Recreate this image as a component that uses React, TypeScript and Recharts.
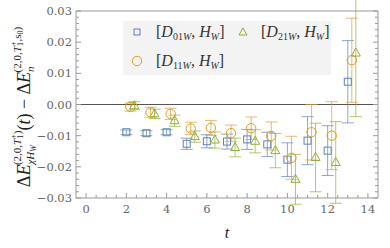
import React from "react";
import {
  ComposedChart,
  Scatter,
  ErrorBar,
  XAxis,
  YAxis,
  ReferenceLine,
  Legend,
} from "recharts";

// time slices for each operator pair (shifted slightly so the points do not overlap)
const tD01 = [2, 3, 4, 5, 6, 7, 8, 9, 10, 11, 12, 13];
const tD11 = [2.2, 3.2, 4.2, 5.2, 6.2, 7.2, 8.2, 9.2, 10.2, 11.2, 12.2, 13.2];
const tD21 = [2.4, 3.4, 4.4, 5.4, 6.4, 7.4, 8.4, 9.4, 10.4, 11.4, 12.4, 13.4];

const d01Values = [-0.0089, -0.0092, -0.0089, -0.0126, -0.0118, -0.0119, -0.0112, -0.0128, -0.0177, -0.0116, -0.0148, 0.0073];
const d01Errors = [0.0007, 0.0008, 0.0008, 0.0018, 0.0021, 0.0024, 0.0032, 0.0039, 0.0054, 0.0077, 0.008, 0.0132];

const d11Values = [-0.0008, -0.0025, -0.003, -0.0077, -0.0075, -0.0092, -0.0076, -0.0101, -0.0171, -0.0089, -0.01, 0.0142];
const d11Errors = [0.0013, 0.0016, 0.0018, 0.002, 0.0024, 0.0026, 0.0036, 0.0045, 0.0069, 0.0089, 0.0109, 0.0135];

const d21Values = [-0.0004, -0.003, -0.0052, -0.0103, -0.0114, -0.0138, -0.0118, -0.0148, -0.024, -0.017, -0.0186, 0.0165];
const d21Errors = [0.0013, 0.0015, 0.0018, 0.0018, 0.0026, 0.003, 0.0037, 0.0055, 0.008, 0.011, 0.0131, 0.0204];

const xMajorTicks = [0, 2, 4, 6, 8, 10, 12, 14];
const yMajorTicks = [-0.03, -0.02, -0.01, 0, 0.01, 0.02, 0.03];

// minor ticks every 0.5 on t and every 0.002 on the energy axis
const xTicks: number[] = [];
for (let i = 0; i <= 28; i++) xTicks.push(i / 2);
const yTicks: number[] = [];
for (let i = -15; i <= 15; i++) yTicks.push(i / 500);

const BLUE = "#5E81B5";
const ORANGE = "#E19C24";
const GREEN = "#8FB032";
const FRAME = "#9a9a9a";
const LABEL = "#666";
const SERIF = "'DejaVu Serif', serif";
const MATH = "'Liberation Serif', serif";

const toRows = (ts: number[], vs: number[], es: number[]) =>
  ts.map((t, i) => ({ x: t, y: vs[i], e: es[i] }));

const isMajorX = (v: number) => xMajorTicks.some((m) => Math.abs(m - v) < 1e-6);
const isMajorY = (v: number) => yMajorTicks.some((m) => Math.abs(m - v) < 1e-7);

const fmtY = (v: number) => {
  const s = Math.abs(v).toFixed(2);
  return v < -1e-9 ? "\u2212" + s : s;
};

const BottomTick = (p: any) => {
  const major = isMajorX(p.payload.value);
  return (
    <g>
      <line x1={p.x} x2={p.x} y1={p.y} y2={p.y - (major ? 5 : 3)} stroke={FRAME} />
      {major && (
        <text x={p.x} y={p.y + 15} textAnchor="middle" fill={LABEL} fontSize={11.5} fontFamily={SERIF}>
          {p.payload.value}
        </text>
      )}
    </g>
  );
};

const TopTick = (p: any) => {
  const major = isMajorX(p.payload.value);
  return <line x1={p.x} x2={p.x} y1={p.y} y2={p.y + (major ? 5 : 3)} stroke={FRAME} />;
};

const LeftTick = (p: any) => {
  const major = isMajorY(p.payload.value);
  return (
    <g>
      <line x1={p.x} x2={p.x + (major ? 5 : 3)} y1={p.y} y2={p.y} stroke={FRAME} />
      {major && (
        <text x={p.x - 4} y={p.y + 4} textAnchor="end" fill={LABEL} fontSize={11.5} fontFamily={SERIF}>
          {fmtY(p.payload.value)}
        </text>
      )}
    </g>
  );
};

const RightTick = (p: any) => {
  const major = isMajorY(p.payload.value);
  return <line x1={p.x} x2={p.x - (major ? 5 : 3)} y1={p.y} y2={p.y} stroke={FRAME} />;
};

const SquareShape = (p: any) => (
  <rect x={p.cx - 3.5} y={p.cy - 3.5} width={7} height={7} fill="none" stroke={BLUE} strokeWidth={1} />
);
const CircleShape = (p: any) => (
  <circle cx={p.cx} cy={p.cy} r={4.7} fill="none" stroke={ORANGE} strokeWidth={1} />
);
const TriangleShape = (p: any) => (
  <polygon
    points={`${p.cx},${p.cy - 5} ${p.cx - 4.5},${p.cy + 3} ${p.cx + 4.5},${p.cy + 3}`}
    fill="none"
    stroke={GREEN}
    strokeWidth={1}
  />
);

// "[D_{ab W}, H_W]" in a math-like style
const PairLabel = ({ x, y, idx }: { x: number; y: number; idx: string }) => (
  <text x={x} y={y} fontFamily={MATH} fontSize={16} fill="#333">
    <tspan>[</tspan>
    <tspan fontStyle="italic">D</tspan>
    <tspan fontSize={10} dy={3}>{idx}</tspan>
    <tspan fontSize={10} fontStyle="italic">W</tspan>
    <tspan dy={-3}>, </tspan>
    <tspan fontStyle="italic">H</tspan>
    <tspan fontSize={10} fontStyle="italic" dy={3}>W</tspan>
    <tspan dy={-3}>]</tspan>
  </text>
);

const LegendBox = () => (
  <svg width={208} height={54} style={{ display: "block" }}>
    <rect x={0} y={0} width={208} height={54} fill="#f3f3f3" />
    <rect x={11} y={8} width={6} height={6} fill="none" stroke={BLUE} />
    <PairLabel x={33} y={16} idx="01" />
    <polygon points="120,7 116,14 124,14" fill="none" stroke={GREEN} />
    <PairLabel x={138} y={16} idx="21" />
    <circle cx={14} cy={40} r={4.7} fill="none" stroke={ORANGE} />
    <PairLabel x={33} y={45} idx="11" />
  </svg>
);

const YLabel = () => (
  <text transform="translate(30,107) rotate(-90)" textAnchor="middle" fontFamily={MATH} fontSize={18} fill="#222">
    <tspan>Δ</tspan>
    <tspan fontStyle="italic">E</tspan>
    <tspan fontSize={11} fontStyle="italic" dy={4}>χH</tspan>
    <tspan fontSize={8} fontStyle="italic" dy={2}>W</tspan>
    <tspan fontSize={11} dx={-20} dy={-15}>(2,0,</tspan>
    <tspan fontSize={11} fontStyle="italic">T</tspan>
    <tspan fontSize={8} dy={2}>1</tspan>
    <tspan fontSize={8} dx={-4} dy={-7}>+</tspan>
    <tspan fontSize={11} dy={5}>)</tspan>
    <tspan dy={9}>(</tspan>
    <tspan fontStyle="italic">t</tspan>
    <tspan>) − Δ</tspan>
    <tspan fontStyle="italic">E</tspan>
    <tspan fontSize={11} fontStyle="italic" dy={4}>n</tspan>
    <tspan fontSize={11} dx={-6} dy={-13}>(2,0,</tspan>
    <tspan fontSize={11} fontStyle="italic">T</tspan>
    <tspan fontSize={8} dy={2}>1</tspan>
    <tspan fontSize={8} dx={-4} dy={-7}>+</tspan>
    <tspan fontSize={11} dy={5}>,s</tspan>
    <tspan fontSize={8} dy={2}>0</tspan>
    <tspan fontSize={11} dy={-2}>)</tspan>
  </text>
);

export default function App() {
  return (
    <div style={{ position: "absolute", left: 0, top: 0, width: 390, height: 248, background: "#fff" }}>
      <ComposedChart width={390} height={248} margin={{ top: 10, right: 11, bottom: 49, left: 75 }}>
        <XAxis
          xAxisId="main"
          dataKey="x"
          type="number"
          domain={[-0.5, 14.5]}
          allowDataOverflow
          ticks={xTicks}
          interval={0}
          height={1}
          tickSize={0}
          tickMargin={0}
          tickLine={false}
          axisLine={{ stroke: FRAME }}
          tick={BottomTick}
        />
        <XAxis
          xAxisId="top"
          orientation="top"
          type="number"
          domain={[-0.5, 14.5]}
          allowDataOverflow
          ticks={xTicks}
          interval={0}
          height={1}
          tickSize={0}
          tickMargin={0}
          tickLine={false}
          axisLine={{ stroke: FRAME }}
          tick={TopTick}
        />
        <YAxis
          yAxisId="main"
          dataKey="y"
          type="number"
          domain={[-0.03, 0.03]}
          allowDataOverflow
          ticks={yTicks}
          interval={0}
          width={1}
          tickSize={0}
          tickMargin={0}
          tickLine={false}
          axisLine={{ stroke: FRAME }}
          tick={LeftTick}
        />
        <YAxis
          yAxisId="right"
          orientation="right"
          type="number"
          domain={[-0.03, 0.03]}
          allowDataOverflow
          ticks={yTicks}
          interval={0}
          width={1}
          tickSize={0}
          tickMargin={0}
          tickLine={false}
          axisLine={{ stroke: FRAME }}
          tick={RightTick}
        />
        <ReferenceLine
          xAxisId="main"
          yAxisId="main"
          segment={[{ x: -0.5, y: 0 }, { x: 14.5, y: 0 }]}
          stroke="#555"
          strokeWidth={1.2}
        />
        <Scatter
          xAxisId="main"
          yAxisId="main"
          name="D01W"
          data={toRows(tD01, d01Values, d01Errors)}
          shape={SquareShape}
          isAnimationActive={false}
        >
          <ErrorBar dataKey="e" direction="y" width={6} stroke={BLUE} strokeOpacity={0.7} strokeWidth={1} isAnimationActive={false} />
        </Scatter>
        <Scatter
          xAxisId="main"
          yAxisId="main"
          name="D11W"
          data={toRows(tD11, d11Values, d11Errors)}
          shape={CircleShape}
          isAnimationActive={false}
        >
          <ErrorBar dataKey="e" direction="y" width={6} stroke={ORANGE} strokeOpacity={0.7} strokeWidth={1} isAnimationActive={false} />
        </Scatter>
        <Scatter
          xAxisId="main"
          yAxisId="main"
          name="D21W"
          data={toRows(tD21, d21Values, d21Errors)}
          shape={TriangleShape}
          isAnimationActive={false}
        >
          <ErrorBar dataKey="e" direction="y" width={6} stroke={GREEN} strokeOpacity={0.7} strokeWidth={1} isAnimationActive={false} />
        </Scatter>
        <Legend
          layout="horizontal"
          verticalAlign="middle"
          align="center"
          content={LegendBox}
          wrapperStyle={{ position: "absolute", left: 123, top: 21, width: 208, height: 54 }}
        />
        <YLabel />
        <text x={227} y={238} textAnchor="middle" fontFamily={MATH} fontStyle="italic" fontSize={16} fill="#222">
          t
        </text>
      </ComposedChart>
    </div>
  );
}
